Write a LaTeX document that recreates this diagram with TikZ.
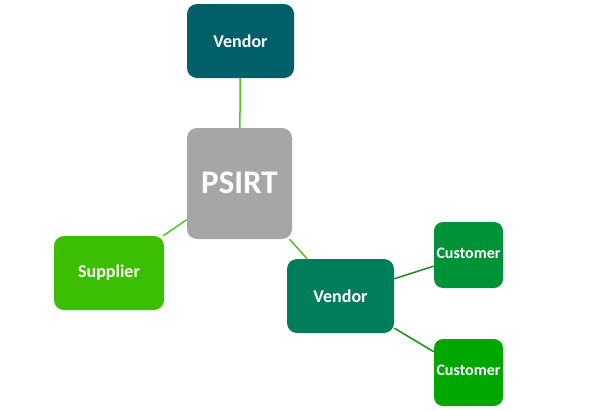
\documentclass[tikz,border=0pt]{standalone}
\usepackage{fontspec}
\setmainfont{Carlito}
\definecolor{vtop}{HTML}{005F69}
\definecolor{psirt}{HTML}{A6A6A6}
\definecolor{supp}{HTML}{3CBE00}
\definecolor{vbot}{HTML}{007E5C}
\definecolor{cust1}{HTML}{009237}
\definecolor{cust2}{HTML}{00A700}
\definecolor{lnlight}{HTML}{52C422}
\definecolor{lndark}{HTML}{1B8C20}
\begin{document}
\begin{tikzpicture}[x=1pt,y=-1pt,
  box/.style={rectangle,rounded corners=10pt,inner sep=0pt,text=white,font=\bfseries\fontsize{18}{21}\selectfont},
  custbox/.style={box,minimum width=69pt,rounded corners=9pt,font=\bfseries\fontsize{16}{19}\selectfont},
  conn/.style={line width=1.5pt,lnlight},
  conndark/.style={line width=1.5pt,lndark}]
\useasboundingbox[fill=white] (0,0) rectangle (600,410);
\node[box,fill=vtop,minimum width=107pt,minimum height=74pt] (v1) at (240.5,41) {Vendor};
\node[box,fill=psirt,minimum width=105pt,minimum height=111pt,font=\bfseries\fontsize{33}{38}\selectfont] (p) at (239.5,183.5) {\raisebox{2pt}{PSIRT}};
\node[box,fill=supp,minimum width=110pt,minimum height=74pt] (s) at (109,273) {Supplier};
\node[box,fill=vbot,minimum width=107pt,minimum height=74pt] (v2) at (340.5,296) {Vendor};
\node[custbox,fill=cust1,minimum height=66pt] (c1) at (468.5,255) {\raisebox{4pt}{Customer}};
\node[custbox,fill=cust2,minimum height=67pt] (c2) at (468.5,372.5) {\raisebox{4pt}{Customer}};
\draw[conn] (v1) -- (p);
\draw[conn] (s) -- (p);
\draw[conn] (p) -- (v2);
\draw[conndark] (v2) -- (c1);
\draw[conndark] (v2) -- (c2);
\end{tikzpicture}
\end{document}
